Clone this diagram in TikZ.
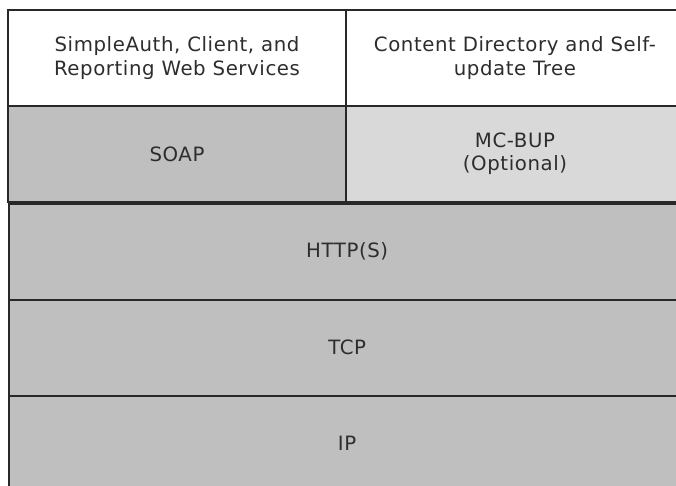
\documentclass[tikz,border=0pt]{standalone}
\usepackage{fontspec}
\setmainfont[LetterSpace=3]{DejaVu Sans}
\usetikzlibrary{positioning}

\definecolor{layergray}{RGB}{191,191,191}
\definecolor{optgray}{RGB}{217,217,217}
\definecolor{edgegray}{RGB}{40,40,40}
\definecolor{textgray}{RGB}{45,45,45}

\begin{document}
\begin{tikzpicture}[x=0.75pt,y=-0.75pt,node distance=72pt,on grid,
  every node/.style={font=\fontsize{14.8}{17.5}\selectfont,text=textgray,align=center},
  half/.style={draw=edgegray,line width=1.3pt,minimum width=253.9pt,minimum height=72pt,inner sep=0pt},
  full/.style={half,minimum width=507.75pt,fill=layergray}]
  \useasboundingbox (0,0) rectangle (676,486);
  \clip (0,0) rectangle (676,486);

  \node[half]                 (apps)  at (177,58)     {SimpleAuth, Client, and\\Reporting Web Services};
  \node[half] (tree)  [right=253.5pt of apps]  {Content Directory and Self-\\update Tree};
  \node[half,fill=layergray]  (soap)  [below=of apps]  {SOAP};
  \node[half,fill=optgray]    (mcbup) [below=of tree]  {MC-BUP\\(Optional)};
  \node[full,anchor=north] (http) at (soap.south east) {HTTP(S)};
  \node[full] (tcp)  [below=of http] {TCP};
  \node[full] (ip)   [below=of tcp]  {IP};
\end{tikzpicture}
\end{document}
